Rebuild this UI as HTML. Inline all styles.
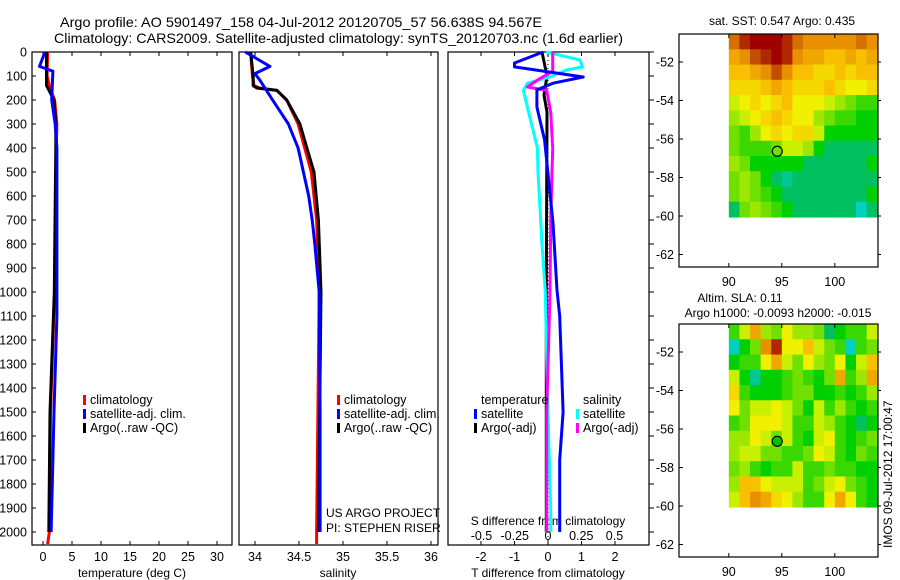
<!DOCTYPE html>
<html><head><meta charset="utf-8"><style>
html,body{margin:0;padding:0;background:#fff;}
svg{display:block;font-family:"Liberation Sans",sans-serif;}
</style></head><body>
<svg id="c" width="900" height="580" viewBox="0 0 900 580" xmlns="http://www.w3.org/2000/svg">
<text x="60" y="27" font-size="14" textLength="482" lengthAdjust="spacingAndGlyphs">Argo profile: AO 5901497_158 04-Jul-2012 20120705_57 56.638S 94.567E</text>
<text x="54" y="43" font-size="14" textLength="569" lengthAdjust="spacingAndGlyphs">Climatology: CARS2009. Satellite-adjusted climatology: synTS_20120703.nc (1.6d earlier)</text>
<text x="782" y="25" font-size="12" text-anchor="middle">sat. SST: 0.547 Argo: 0.435</text>
<text x="740" y="302" font-size="12" text-anchor="middle">Altim. SLA: 0.11</text>
<text x="778" y="317" font-size="12" text-anchor="middle">Argo h1000: -0.0093 h2000: -0.015</text>
<text x="132" y="577" font-size="12" text-anchor="middle">temperature (deg C)</text>
<text x="338" y="577" font-size="12" text-anchor="middle">salinity</text>
<text x="548" y="577" font-size="12" text-anchor="middle">T difference from climatology</text>
<text x="548" y="525" font-size="12" text-anchor="middle">S difference from climatology</text>
<text x="326" y="517" font-size="12">US ARGO PROJECT</text>
<text x="326" y="532" font-size="12">PI: STEPHEN RISER</text>
<text transform="translate(892,548) rotate(-90)" font-size="12">IMOS 09-Jul-2012 17:00:47</text>
<g id="g"></g>
</svg>
<script>
// ---- data ----
const depthTicks = [0,100,200,300,400,500,600,700,800,900,1000,1100,1200,1300,1400,1500,1600,1700,1800,1900,2000];
const tempTicks = [0,5,10,15,20,25,30];
const salTicks = [34,34.5,35,35.5,36];
const salTickLabels = ["34","34.5","35","35.5","36"];
const tdiffTicks = [-2,-1,0,1,2];
const sdiffTicks = [-0.5,-0.25,0,0.25,0.5];
const sdiffTickLabels = ["-0.5","-0.25","0","0.25","0.5"];

const tClimDepth = [0,100,150,200,300,400,1000,1500,2000,2050];
const tClim = [0.8,0.7,1.2,2.0,2.4,2.3,2.0,1.3,1.1,0.8];
const tSatDepth = [0,60,80,200,300,400,1100,1500,1800,2000];
const tSat = [0.35,-0.6,1.7,1.5,2.1,2.4,2.4,1.9,1.6,1.4];
const tArgoDepth = [0,140,200,300,400,1000,1500,2000];
const tArgo = [0.6,0.6,1.9,2.2,2.2,1.95,1.2,1.0];

const sClimDepth = [0,100,140,150,160,200,300,500,700,1000,2000,2050];
const sClim = [33.95,33.97,33.99,34.05,34.25,34.36,34.49,34.64,34.70,34.73,34.70,34.70];
const sSatDepth = [0,60,90,120,200,300,400,500,600,700,800,1000,1500,2000];
const sSat = [33.89,34.17,34.0,34.06,34.2,34.38,34.49,34.55,34.61,34.65,34.68,34.73,34.74,34.74];
const sArgoDepth = [0,100,140,150,160,200,300,400,500,700,1000,2000];
const sArgo = [33.95,33.98,33.98,34.02,34.25,34.36,34.51,34.59,34.67,34.72,34.75,34.72];

const dTSatDepth = [0,46,62,104,130,158,229,367,713,992,1100,1500,1700,2000];
const dTSat = [-0.15,-1.0,-1.0,1.05,0.15,-0.33,-0.33,-0.1,0.15,0.27,0.35,0.45,0.35,0.35];
const dTArgoDepth = [0,100,180,250,1000,2000];
const dTArgo = [-0.18,-0.03,-0.12,-0.03,-0.05,-0.05];
const dSSatDepth = [0,33,62,75,104,130,160,240,400,500,800,1000,1400,1900,2000];
const dSSat = [-0.015,0.24,0.26,0.14,0.015,-0.155,-0.185,-0.15,-0.08,-0.075,-0.045,-0.02,-0.005,0.02,0.02];
const dSArgoDepth = [0,80,117,146,160,250,400,700,1000,1500,1900,2000];
const dSArgo = [0.035,0.035,-0.08,-0.155,-0.01,0.02,0.035,0.02,0.015,-0.01,-0.01,-0.01];

const lonTicks = [90,95,100];
const latTicks = [-52,-54,-56,-58,-60,-62];
const latTickLabels = ["-52","-54","-56","-58","-60","-62"];
const argoLon = 94.567, argoLat = -56.638;
const sstGrid = [
[0.85,0.95,1,1,1,0.95,0.85,0.8,0.8,0.8,0.8,0.8,0.85,0.8],
[0.75,0.8,0.9,0.95,1,0.95,0.8,0.75,0.75,0.7,0.7,0.75,0.7,0.75],
[0.7,0.7,0.75,0.8,0.9,0.8,0.7,0.7,0.65,0.65,0.7,0.65,0.7,0.7],
[0.65,0.65,0.65,0.7,0.75,0.7,0.65,0.65,0.65,0.7,0.65,0.6,0.6,0.65],
[0.55,0.6,0.65,0.6,0.65,0.7,0.6,0.6,0.6,0.55,0.5,0.45,0.4,0.4],
[0.5,0.55,0.6,0.65,0.7,0.65,0.6,0.6,0.5,0.45,0.4,0.4,0.35,0.35],
[0.45,0.4,0.5,0.6,0.65,0.6,0.65,0.65,0.55,0.35,0.35,0.35,0.35,0.35],
[0.45,0.4,0.4,0.4,0.45,0.55,0.55,0.5,0.35,0.3,0.3,0.3,0.3,0.3],
[0.5,0.45,0.35,0.35,0.35,0.35,0.35,0.3,0.3,0.3,0.3,0.3,0.3,0.35],
[0.45,0.5,0.45,0.35,0.3,0.25,0.3,0.3,0.3,0.3,0.3,0.3,0.3,0.3],
[0.45,0.5,0.45,0.4,0.35,0.3,0.3,0.3,0.3,0.3,0.3,0.3,0.3,0.35],
[0.3,0.45,0.5,0.45,0.4,0.35,0.3,0.3,0.3,0.3,0.3,0.3,0.2,0.3]];
const slaGrid = [
[0.4,0.55,0.75,0.5,0.45,0.6,0.5,0.5,0.45,0.3,0.35,0.4,0.4,0.55],
[0.2,0.35,0.45,0.8,0.95,0.6,0.6,0.7,0.55,0.45,0.4,0.2,0.4,0.45],
[0.35,0.4,0.4,0.6,0.75,0.55,0.45,0.6,0.5,0.45,0.6,0.35,0.55,0.7],
[0.55,0.35,0.25,0.35,0.35,0.4,0.45,0.4,0.35,0.45,0.75,0.4,0.5,0.75],
[0.65,0.4,0.35,0.35,0.35,0.4,0.45,0.45,0.35,0.35,0.4,0.35,0.4,0.5],
[0.6,0.45,0.55,0.55,0.6,0.55,0.45,0.35,0.55,0.4,0.5,0.4,0.35,0.4],
[0.4,0.45,0.6,0.6,0.6,0.55,0.4,0.4,0.55,0.5,0.4,0.35,0.3,0.35],
[0.5,0.5,0.6,0.55,0.45,0.55,0.4,0.35,0.55,0.6,0.4,0.35,0.4,0.45],
[0.5,0.55,0.55,0.45,0.45,0.4,0.4,0.45,0.6,0.55,0.4,0.35,0.45,0.4],
[0.45,0.5,0.4,0.35,0.4,0.4,0.55,0.4,0.4,0.45,0.4,0.4,0.35,0.35],
[0.5,0.7,0.7,0.6,0.55,0.55,0.55,0.4,0.45,0.55,0.6,0.45,0.4,0.35],
[0.55,0.7,0.8,0.75,0.65,0.6,0.5,0.4,0.4,0.6,0.75,0.6,0.4,0.35]];

// ---- drawing ----
const NS = "http://www.w3.org/2000/svg";
const G = document.getElementById('g');
function mk(tag, attrs, parent){ const e=document.createElementNS(NS,tag); for(const k in attrs) e.setAttribute(k,attrs[k]); (parent||G).appendChild(e); return e; }

const TOP=52, BOT=545;
const yD = d => TOP + d*0.24;
const xT = t => 43 + t*5.8;
const xS = s => 255 + (s-34)*88;
const xDT = t => 548 + t*33.5;
const xDS = s => 548 + s*133;

const panels = [[32,232,'temperature-panel'],[239,438,'salinity-panel'],[448,649,'difference-panel']];
panels.forEach(p=>{
  const r = mk('rect',{x:p[0],y:TOP,width:p[1]-p[0],height:BOT-TOP,fill:'none',stroke:'#000','stroke-width':1.2});
  
  
});
depthTicks.forEach(d=>{
  const y=yD(d);
  mk('line',{x1:32,x2:36,y1:y,y2:y,stroke:'#000'});
  mk('line',{x1:649,x2:654,y1:y,y2:y,stroke:'#000'});
  const t=mk('text',{x:27,y:y+4.5,'font-size':12.5,'text-anchor':'end'}); t.textContent=d;
  
  
});
function xticks(vals, labels, fx, yLab){
  vals.forEach((v,i)=>{
    const x=fx(v);
    mk('line',{x1:x,x2:x,y1:TOP,y2:TOP+4,stroke:'#000'});
    mk('line',{x1:x,x2:x,y1:BOT,y2:BOT-4,stroke:'#000'});
    const t=mk('text',{x:x,y:yLab,'font-size':12.5,'text-anchor':'middle'}); t.textContent=labels[i];
    
    
  });
}
xticks(tempTicks, tempTicks.map(String), xT, 561);
xticks(salTicks, salTickLabels, xS, 561);
xticks(tdiffTicks, tdiffTicks.map(String), xDT, 561);
sdiffTicks.forEach((v,i)=>{
  const t=mk('text',{x:xDS(v),y:540,'font-size':12.5,'text-anchor':'middle'}); t.textContent=sdiffTickLabels[i];
  
  
});
function line(xs, ds, fx, color, name){
  const pts = xs.map((v,i)=>fx(v).toFixed(1)+','+yD(ds[i]).toFixed(1)).join(' ');
  const p = mk('polyline',{points:pts,fill:'none',stroke:color,'stroke-width':3,'stroke-linejoin':'round'});
  
  
}
line(tClim,tClimDepth,xT,'#f00','temperature-climatology-line');
line(tArgo,tArgoDepth,xT,'#000','temperature-argo-line');
line(tSat,tSatDepth,xT,'#00f','temperature-satellite-line');
line(sClim,sClimDepth,xS,'#f00','salinity-climatology-line');
line(sArgo,sArgoDepth,xS,'#000','salinity-argo-line');
line(sSat,sSatDepth,xS,'#00f','salinity-satellite-line');
mk('line',{x1:548,x2:548,y1:TOP,y2:BOT,stroke:'#000','stroke-dasharray':'1,3'});
line(dTArgo,dTArgoDepth,xDT,'#000','t-diff-argo-line');
line(dSSat,dSSatDepth,xDS,'#0ff','s-diff-satellite-line');
line(dSArgo,dSArgoDepth,xDS,'#f0f','s-diff-argo-line');
line(dTSat,dTSatDepth,xDT,'#00f','t-diff-satellite-line');

function legend(x, y, color, label, name){
  if(color){ const r=mk('rect',{x:x,y:y-9,width:3,height:10,fill:color});   }
  const t=mk('text',{x:x+7,y:y,'font-size':12.5}); t.textContent=label;
  
  
}
legend(83,404,'#f00','climatology','legend-climatology');
legend(83,418,'#00f','satellite-adj. clim.','legend-satellite');
legend(83,432,'#000','Argo(..raw -QC)','legend-argo');
legend(337,404,'#f00','climatology','legend-sal-climatology');
legend(337,418,'#00f','satellite-adj. clim.','legend-sal-satellite');
legend(337,432,'#000','Argo(..raw -QC)','legend-sal-argo');
legend(474,404,null,'temperature','legend-temperature-header');
legend(474,418,'#00f','satellite','legend-t-satellite');
legend(474,432,'#000','Argo(-adj)','legend-t-argo');
legend(576,404,null,'salinity','legend-salinity-header');
legend(576,418,'#0ff','satellite','legend-s-satellite');
legend(576,432,'#f0f','Argo(-adj)','legend-s-argo');

const cmapStops=[[0.2,[0,208,192]],[0.3,[0,192,96]],[0.35,[0,208,0]],[0.45,[112,224,0]],[0.55,[200,240,0]],[0.6,[240,240,0]],[0.7,[248,192,0]],[0.8,[232,144,0]],[0.9,[192,80,0]],[1.0,[160,0,0]]];
function cmap(v){
  if(v<=cmapStops[0][0]) return 'rgb('+cmapStops[0][1]+')';
  for(let i=1;i<cmapStops.length;i++){
    if(v<=cmapStops[i][0]){
      const a=cmapStops[i-1],b=cmapStops[i],f=(v-a[0])/(b[0]-a[0]);
      return 'rgb('+a[1].map((c,k)=>Math.round(c+(b[1][k]-c)*f)).join(',')+')';
    }
  }
  return 'rgb(160,0,0)';
}
function drawMap(top, grid, name){
  const L=679,R=878,H=233;
  const xL = lon => L + (lon-85.3)*10.6;
  const yL = lat => top + 28 + (-52-lat)*19.25;
  const g=mk('g',{});
  
  
  const rows=grid.length, cols=grid[0].length;
  const lat0=-50.55, lat1=-60.05, lon0=90, lon1=104;
  const cw=(xL(lon1)-xL(lon0))/cols, ch=(yL(lat1)-yL(lat0))/rows;
  grid.forEach((row,r)=>row.forEach((v,c)=>{
    const e=mk('rect',{x:(xL(lon0)+c*cw).toFixed(2),y:(yL(lat0)+r*ch).toFixed(2),width:(cw+0.6).toFixed(2),height:(ch+0.6).toFixed(2),fill:cmap(v)},g);
    
    
  }));
  mk('rect',{x:L,y:top,width:R-L,height:H,fill:'none',stroke:'#000','stroke-width':1.2},g);
  lonTicks.forEach(v=>{
    const x=xL(v);
    mk('line',{x1:x,x2:x,y1:top,y2:top+4,stroke:'#000'},g);
    mk('line',{x1:x,x2:x,y1:top+H,y2:top+H-4,stroke:'#000'},g);
    const t=mk('text',{x:x,y:top+H+19,'font-size':12.5,'text-anchor':'middle'},g); t.textContent=v;
  });
  latTicks.forEach((v,i)=>{
    const y=yL(v);
    mk('line',{x1:L,x2:L+4,y1:y,y2:y,stroke:'#000'},g);
    mk('line',{x1:R,x2:R+3,y1:y,y2:y,stroke:'#000'},g);
    const t=mk('text',{x:L-5,y:y+4.5,'font-size':12.5,'text-anchor':'end'},g); t.textContent=latTickLabels[i];
  });
  const m=mk('circle',{cx:xL(argoLon),cy:yL(argoLat),r:5,fill:name.includes('sla')?'#00c000':'none',stroke:'#000','stroke-width':1.2},g);
  
  
}
drawMap(34, sstGrid, 'sst-map');
drawMap(324, slaGrid, 'sla-map');
</script>
</body></html>
